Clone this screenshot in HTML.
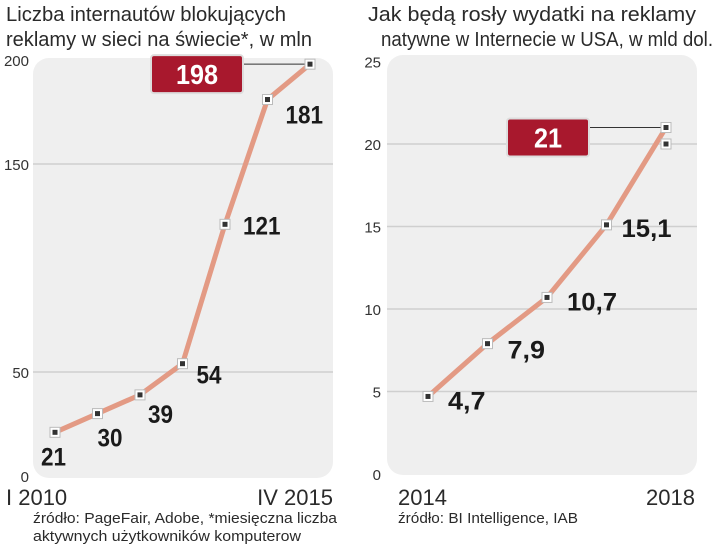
<!DOCTYPE html>
<html><head><meta charset="utf-8"><style>
body{margin:0;width:720px;height:545px;background:#fff;overflow:hidden}
svg{display:block}
.t{font-family:"Liberation Sans",sans-serif;fill:#2a2a2a}
.tick{font-family:"Liberation Sans",sans-serif;font-size:15px;fill:#333}
.val{font-family:"Liberation Sans",sans-serif;font-weight:bold;font-size:25px;fill:#1a1a1a}
.box{font-family:"Liberation Sans",sans-serif;font-weight:bold;font-size:28px;fill:#fff}
</style></head><body>
<svg id="s" width="720" height="545">
<text class="t" x="6" y="21" font-size="20" textLength="280" lengthAdjust="spacingAndGlyphs">Liczba internautów blokujących</text>
<text class="t" x="6" y="46" font-size="20" textLength="306" lengthAdjust="spacingAndGlyphs">reklamy w sieci na świecie*, w mln</text>
<text class="t" x="368" y="21" font-size="20" textLength="328" lengthAdjust="spacingAndGlyphs">Jak będą rosły wydatki na reklamy</text>
<text class="t" x="381" y="46" font-size="20" textLength="332" lengthAdjust="spacingAndGlyphs">natywne w Internecie w USA, w mld dol.</text>
<rect x="33" y="58" width="300" height="420" rx="16" fill="#efefef"/>
<rect x="387" y="55" width="310" height="420" rx="16" fill="#efefef"/>
<g id="L"></g><g id="R"></g>
<text class="t" x="6" y="505" font-size="22">I 2010</text>
<text class="t" x="333" y="505" font-size="22" text-anchor="end">IV 2015</text>
<text class="t" x="398" y="505" font-size="22">2014</text>
<text class="t" x="695" y="505" font-size="22" text-anchor="end">2018</text>
<text class="t" x="33" y="523" font-size="15" textLength="304" lengthAdjust="spacingAndGlyphs">źródło: PageFair, Adobe, *miesięczna liczba</text>
<text class="t" x="33" y="541" font-size="15" textLength="268" lengthAdjust="spacingAndGlyphs">aktywnych użytkowników komputerow</text>
<text class="t" x="398" y="523" font-size="15" textLength="180" lengthAdjust="spacingAndGlyphs">źródło: BI Intelligence, IAB</text>
</svg>
<script>
const leftValues=[21,30,39,54,121,181,198];
const leftLabels=["21","30","39","54","121","181","198"];
const leftTicks=[0,50,150,200];
const rightValues=[4.7,7.9,10.7,15.1,21];
const rightLabels=["4,7","7,9","10,7","15,1","21"];
const rightExtra=[20];
const rightTicks=[0,5,10,15,20,25];
const NS="http://www.w3.org/2000/svg";
function mk(g,tag,a,txt){const e=document.createElementNS(NS,tag);for(const k in a)e.setAttribute(k,a[k]);if(txt!==undefined)e.textContent=txt;g.appendChild(e);return e;}
function draw(gid,o){
 const g=document.getElementById(gid);
 const y=v=>o.y0-v*o.k;
 const x=i=>o.x0+i*o.dx;
 o.ticks.forEach(t=>{
  if(t>0&&t<o.max){const l=mk(g,'line',{x1:o.px0,x2:o.px1,y1:y(t),y2:y(t),stroke:'#cfcfcf','stroke-width':1.5});
  
  }
  const tx=mk(g,'text',{class:'tick',x:o.tx,y:y(t)+6,'text-anchor':'end'},String(t));
  
  
 });
 const n=o.vals.length;
 const last={x:x(n-1),y:y(o.vals[n-1])};
 const ln=mk(g,'line',{x1:o.bx+o.bw,x2:last.x,y1:last.y,y2:last.y,stroke:'#333','stroke-width':1});
 
 
 const p=mk(g,'polyline',{points:o.vals.map((v,i)=>x(i)+','+y(v)).join(' '),fill:'none',stroke:'#e39a84','stroke-width':5,'stroke-linejoin':'round'});
 
 
 const pts=o.vals.map((v,i)=>[x(i),y(v)]).concat(o.extra.map(v=>[x(n-1),y(v)]));
 pts.forEach(q=>{
  const m=mk(g,'rect',{x:q[0]-5,y:q[1]-5,width:10,height:10,fill:'#fff',stroke:'#bbb','stroke-width':1});
  
  
  const d=mk(g,'rect',{x:q[0]-2.5,y:q[1]-2.5,width:5,height:5,fill:'#333'});
  
  
 });
 o.vals.forEach((v,i)=>{
  if(i==n-1)return;
  const off=o.off[i];
  const t=mk(g,'text',{class:'val',x:x(i)+off[0],y:y(v)+off[1],textLength:o.labels[i].length*12.5,lengthAdjust:'spacingAndGlyphs'},o.labels[i]);
  
  
 });
 const b=mk(g,'rect',{x:o.bx,y:last.y-9,width:o.bw,height:38,rx:3,fill:'#a8182d',stroke:'#ddd','stroke-width':2});
 
 
 const bt=mk(g,'text',{class:'box',x:o.bx+o.bw/2,y:last.y+20,'text-anchor':'middle',textLength:o.labels[n-1].length*14,lengthAdjust:'spacingAndGlyphs'},o.labels[n-1]);
 
 
}
draw('L',{vals:leftValues,labels:leftLabels,ticks:leftTicks,extra:[],x0:55,dx:42.5,y0:476,k:2.08,max:200,px0:33,px1:333,tx:29,bx:151,bw:92,
 off:[[-14,33],[0,33],[8,28],[14,20],[18,10],[18,24]]});
draw('R',{vals:rightValues,labels:rightLabels,ticks:rightTicks,extra:rightExtra,x0:428,dx:59.5,y0:474,k:16.5,max:25,px0:387,px1:697,tx:381,bx:507,bw:82,
 off:[[20,13],[20,15],[20,13],[15,12]]});
</script>
</body></html>
